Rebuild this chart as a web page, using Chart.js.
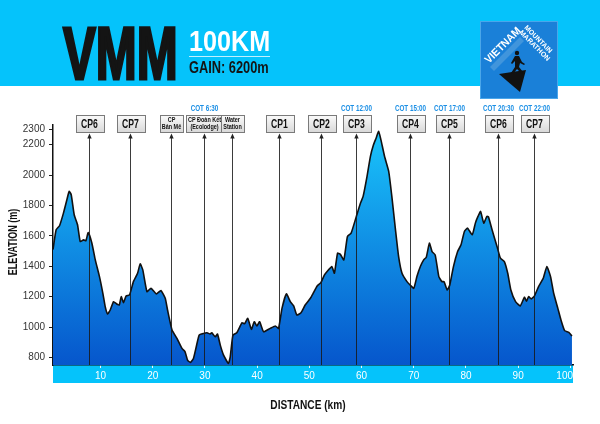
<!DOCTYPE html>
<html lang="vi">
<head>
<meta charset="UTF-8">
<title>VMM 100KM</title>
<script src="https://cdn.jsdelivr.net/npm/chart.js"></script>
<style>
  body { margin: 0; width: 600px; height: 424px; background: #fff; overflow: hidden; position: relative; font-family: "Liberation Sans", Arial, sans-serif; }
  #chart { position: absolute; left: 0; top: 0; }
  .band { position: absolute; left: 0; top: 0; width: 600px; height: 86px; background: #05c3fb; }
  .t { position: absolute; font-weight: bold; line-height: 1; white-space: nowrap; transform-origin: 0 0; }
  #vmm { left: 63px; top: 17px; font-size: 74px; color: #141414; transform: scaleX(0.665); -webkit-text-stroke: 3px #141414; }
  #dist { left: 189px; top: 26px; font-size: 30px; color: #fff; transform: scaleX(0.84); }
  #rule { position: absolute; left: 189px; top: 56px; width: 81px; height: 1px; background: rgba(255,255,255,0.75); }
  #gain { left: 189px; top: 60px; font-size: 16px; color: #141414; transform: scaleX(0.8); }
  #logo { position: absolute; left: 480px; top: 21px; }
</style>
</head>
<body>
<canvas id="chart" width="600" height="424"></canvas>
<div class="band"></div>
<div class="t" id="vmm">VMM</div>
<div class="t" id="dist">100KM</div>
<div id="rule"></div>
<div class="t" id="gain">GAIN: 6200m</div>
<svg id="logo" width="78" height="78" viewBox="0 0 78 78">
  <rect x="0.5" y="0.5" width="77" height="77" fill="#1a80d8" stroke="#4aa6ea"/>
  <path d="M10 46 L40 16 L44 20 L14 50 Z" fill="#5aa3df" opacity="0.6"/>
  <text x="0" y="0" transform="translate(9 43) rotate(-45)" font-family="Liberation Sans, Arial" font-weight="bold" font-size="11" fill="#fff" textLength="46" lengthAdjust="spacingAndGlyphs">VIETNAM</text>
  <text x="0" y="0" transform="translate(44 7) rotate(45)" font-family="Liberation Sans, Arial" font-weight="bold" font-size="7" fill="#fff" textLength="36" lengthAdjust="spacingAndGlyphs">MOUNTAIN</text>
  <text x="0" y="0" transform="translate(39 12) rotate(45)" font-family="Liberation Sans, Arial" font-weight="bold" font-size="7" fill="#fff" textLength="40" lengthAdjust="spacingAndGlyphs">MARATHON</text>
  <path d="M19 53 L46 49 L40 71 Z" fill="#111"/>
  <circle cx="37" cy="32" r="2.2" fill="#111"/>
  <path d="M35 35 L39 35 L42 41 L45 43 L44 44 L40 42 L39 46 L43 51 L42 53 L37 48 L33 53 L31 52 L35 46 L35 40 L32 43 L31 42 Z" fill="#111"/>
</svg>
<script>
// elevation profile (km, m)
const DIST_KM = [0.9, 1.5, 2.15, 2.9, 3.56, 4.0, 4.39, 4.96, 5.6, 6.11, 6.75, 7.2, 7.65, 8.35, 9.0, 9.8, 10.45, 10.9, 11.35, 11.86, 12.5, 13.1, 13.6, 13.97, 14.4, 14.9, 15.56, 16.3, 17.1, 17.6, 18.1, 18.9, 19.66, 20.7, 21.57, 22.4, 22.84, 23.7, 24.64, 25.6, 26.2, 26.67, 27.2, 27.8, 28.34, 28.9, 29.74, 30.4, 31.0, 31.3, 32.0, 32.4, 32.94, 33.57, 34.5, 34.85, 35.37, 36.1, 37.1, 37.6, 38.2, 38.9, 39.45, 39.96, 40.47, 41.24, 42.5, 43.5, 44.1, 44.76, 45.6, 46.35, 47.0, 47.6, 48.4, 49.2, 50.2, 50.8, 51.5, 52.2, 52.9, 53.4, 54.3, 54.8, 55.4, 55.9, 56.6, 57.3, 58.0, 59.0, 59.8, 60.3, 61.05, 61.7, 62.3, 62.8, 63.27, 63.7, 64.4, 65.2, 65.8, 66.5, 67.1, 67.75, 68.7, 69.3, 70.0, 70.6, 71.26, 71.9, 72.4, 73.0, 73.5, 74.1, 74.8, 75.4, 75.8, 76.4, 76.9, 77.6, 78.4, 79.05, 79.7, 80.3, 81.2, 81.8, 82.3, 82.8, 83.4, 84.0, 84.3, 85.0, 85.95, 86.6, 87.35, 88.0, 88.6, 89.5, 90.4, 91.2, 91.6, 92.0, 92.5, 93.1, 93.9, 94.8, 95.5, 96.2, 96.8, 97.6, 98.2, 98.9, 99.7, 100.3];
const ELEV_M = [1510, 1640, 1667, 1750, 1838, 1893, 1871, 1739, 1673, 1563, 1574, 1568, 1622, 1552, 1442, 1332, 1222, 1134, 1086, 1112, 1167, 1152, 1145, 1200, 1160, 1204, 1211, 1299, 1354, 1416, 1376, 1233, 1255, 1218, 1240, 1189, 1112, 980, 925, 859, 837, 782, 767, 793, 870, 947, 958, 962, 954, 962, 936, 954, 881, 815, 760, 804, 947, 962, 1028, 1022, 1057, 985, 1035, 1007, 1035, 969, 991, 1007, 991, 1123, 1218, 1167, 1139, 1079, 1094, 1145, 1189, 1226, 1270, 1292, 1343, 1365, 1398, 1354, 1486, 1480, 1442, 1596, 1618, 1728, 1816, 1860, 1992, 2124, 2201, 2245, 2289, 2234, 2124, 2025, 1860, 1640, 1464, 1354, 1299, 1277, 1255, 1332, 1398, 1442, 1460, 1552, 1497, 1475, 1332, 1299, 1299, 1244, 1277, 1398, 1497, 1541, 1629, 1651, 1607, 1684, 1728, 1761, 1684, 1728, 1725, 1640, 1530, 1453, 1431, 1354, 1244, 1167, 1139, 1196, 1170, 1200, 1185, 1204, 1266, 1321, 1398, 1332, 1222, 1123, 1046, 976, 965, 941];

// checkpoints
const CP_KM = [7.7, 15.56, 23.55, 29.74, 35.18, 44.11, 52.29, 59.0, 69.2, 76.8, 86.07, 93.1];
const CP_LABELS = ['CP6', 'CP7', 'CP\nBản Mê', 'CP Đoàn Kết\n(Ecolodge)', 'Water\nStation', 'CP1', 'CP2', 'CP3', 'CP4', 'CP5', 'CP6', 'CP7'];
const CP_COT = ['', '', '', 'COT 6:30', '', '', '', 'COT 12:00', 'COT 15:00', 'COT 17:00', 'COT 20:30', 'COT 22:00'];

const X_TICKS = [10, 20, 30, 40, 50, 60, 70, 80, 90, 100];
const Y_TICKS = [800, 1000, 1200, 1400, 1600, 1800, 2000, 2200, 2300];

const FONT = '"Liberation Sans", Arial, sans-serif';

function condensed(ctx, text, x, y, size, sx, color, align, weight) {
  ctx.save();
  ctx.font = (weight || 'bold') + ' ' + size + 'px ' + FONT;
  ctx.fillStyle = color;
  ctx.textAlign = align || 'center';
  ctx.textBaseline = 'middle';
  ctx.translate(x, y);
  ctx.scale(sx, 1);
  ctx.fillText(text, 0, 0);
  ctx.restore();
}

const decor = {
  id: 'decor',
  beforeDraw(chart) {
    const { ctx, chartArea: a } = chart;
    ctx.save();
    ctx.fillStyle = '#05c3fb';
    ctx.fillRect(a.left, a.bottom, a.right - a.left, 18);
    ctx.restore();
  },
  afterDatasetsDraw(chart) {
    const { ctx, chartArea: a } = chart;
    const xs = chart.scales.x;
    const boxTop = 115, boxH = 17;
    CP_KM.forEach((km, i) => {
      const x = Math.round(xs.getPixelForValue(km)) + 0.5;
      const lines = CP_LABELS[i].split('\n');
      // leader line with arrow
      ctx.save();
      ctx.strokeStyle = 'rgba(25,25,25,0.85)';
      ctx.lineWidth = 1;
      ctx.beginPath();
      ctx.moveTo(x, boxTop + boxH + 4);
      ctx.lineTo(x, a.bottom);
      ctx.stroke();
      ctx.fillStyle = '#222';
      ctx.beginPath();
      ctx.moveTo(x, boxTop + boxH + 1.5);
      ctx.lineTo(x - 2.2, boxTop + boxH + 6.5);
      ctx.lineTo(x + 2.2, boxTop + boxH + 6.5);
      ctx.closePath();
      ctx.fill();
      // box
      let w;
      if (lines.length === 1) {
        ctx.font = 'bold 12px ' + FONT;
        w = ctx.measureText(lines[0]).width * 0.72 + 11;
      } else {
        ctx.font = 'bold 7px ' + FONT;
        w = Math.max(...lines.map(t => ctx.measureText(t).width)) * 0.78 + 4;
      }
      w = Math.round(w);
      const bx = Math.round(x - w / 2) + 0.5;
      const g = ctx.createLinearGradient(0, boxTop, 0, boxTop + boxH);
      g.addColorStop(0, '#fbfbfb');
      g.addColorStop(1, '#d9d9d9');
      ctx.fillStyle = g;
      ctx.fillRect(bx, boxTop + 0.5, w, boxH);
      ctx.strokeStyle = '#7a7a7a';
      ctx.strokeRect(bx, boxTop + 0.5, w, boxH);
      ctx.restore();
      if (lines.length === 1) {
        condensed(ctx, lines[0], x, boxTop + boxH / 2 + 1, 12, 0.72, '#111');
      } else {
        condensed(ctx, lines[0], x, boxTop + 5, 7, 0.78, '#111');
        condensed(ctx, lines[1], x, boxTop + 12.5, 7, 0.78, '#111');
      }
      if (CP_COT[i]) condensed(ctx, CP_COT[i], x, 108.5, 9, 0.7, '#1b8fe5');
    });
  },
  afterDraw(chart) {
    const { ctx, chartArea: a } = chart;
    // last distance label sits flush with the end of the band
    const last = X_TICKS[X_TICKS.length - 1];
    condensed(ctx, String(last), a.right, a.bottom + 11, 10, 1, '#fff', 'right', 'normal');
    condensed(ctx, 'DISTANCE (km)', 308, 405, 13, 0.78, '#111');
    ctx.save();
    ctx.translate(14, 242);
    ctx.rotate(-Math.PI / 2);
    condensed(ctx, 'ELEVATION (m)', 0, 0, 12, 0.75, '#111');
    ctx.restore();
  }
};

new Chart(document.getElementById('chart').getContext('2d'), {
  type: 'line',
  data: {
    datasets: [{
      data: DIST_KM.map((d, i) => ({ x: d, y: ELEV_M[i] })),
      borderColor: '#111',
      borderWidth: 1.6,
      pointRadius: 0,
      tension: 0.15,
      fill: 'start',
      backgroundColor: (c) => {
        const a = c.chart.chartArea;
        if (!a) return '#0a8de6';
        const g = c.chart.ctx.createLinearGradient(0, a.top, 0, a.bottom);
        g.addColorStop(0, '#1ac7fc');
        g.addColorStop(1, '#0656cc');
        return g;
      }
    }]
  },
  options: {
    responsive: false,
    animation: false,
    devicePixelRatio: 1,
    layout: { padding: { top: 125, right: 27, left: 0, bottom: 0 } },
    plugins: { legend: { display: false }, tooltip: { enabled: false } },
    scales: {
      x: {
        type: 'linear',
        min: 0.9,
        max: 100.5,
        afterBuildTicks: s => { s.ticks = X_TICKS.map(v => ({ value: v })); },
        afterFit: s => { s.height = 59; },
        grid: { drawOnChartArea: false, drawTicks: true, tickLength: 3, color: '#e8f8ff' },
        border: { color: '#111', width: 1.5 },
        ticks: {
          callback: v => String(v),
          color: c => (c.index === X_TICKS.length - 1 ? 'rgba(0,0,0,0)' : '#fff'),
          font: { size: 10, family: FONT }, padding: 2, maxRotation: 0, autoSkip: false
        }
      },
      y: {
        min: 750,
        max: 2330,
        afterBuildTicks: s => { s.ticks = Y_TICKS.map(v => ({ value: v })); },
        afterFit: s => { s.width = 53; },
        grid: { drawOnChartArea: false, drawTicks: true, tickLength: 4, color: '#222' },
        border: { color: '#111', width: 1.5 },
        ticks: { callback: v => String(v), color: '#333', font: { size: 10, family: FONT }, padding: 4, autoSkip: false }
      }
    }
  },
  plugins: [decor]
});
</script>
</body>
</html>
